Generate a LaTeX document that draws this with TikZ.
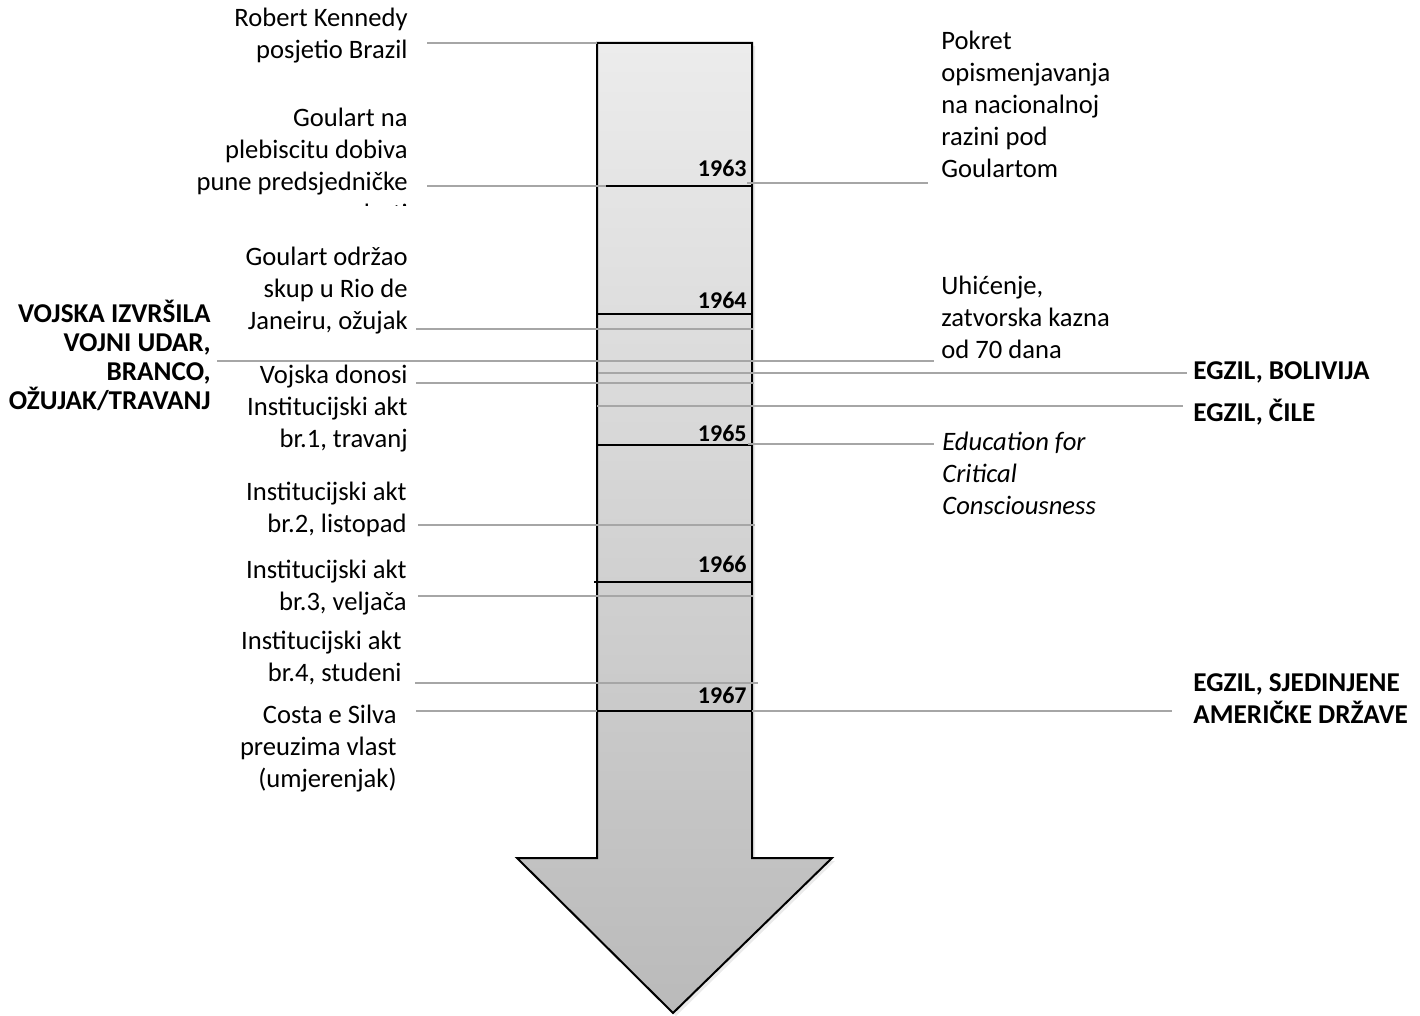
\documentclass[tikz,border=0pt]{standalone}
\usepackage{fontspec}
\setmainfont{Carlito}
\definecolor{linegray}{RGB}{166,166,166}
\definecolor{arrowtop}{RGB}{236,236,236}
\definecolor{arrowbot}{RGB}{186,186,186}
\tikzset{
  conn/.style={draw=linegray, line width=1pt},
  yearline/.style={draw=black, line width=1pt},
  lbl/.style={inner sep=0pt, font=\fontsize{13.3}{16}\selectfont},
  lbll/.style={lbl, anchor=east, align=right},
  lblr/.style={lbl, anchor=west, align=left},
  boldl/.style={inner sep=0pt, anchor=east, align=right, font=\fontsize{13.6}{14.5}\selectfont\bfseries},
  boldr/.style={inner sep=0pt, anchor=west, align=left, font=\fontsize{13.6}{16}\selectfont\bfseries},
  yr/.style={inner sep=0pt, anchor=east, font=\fontsize{12}{14}\selectfont\bfseries},
}
\begin{document}
\begin{tikzpicture}[x=0.5pt, y=-0.5pt, line join=miter]
\useasboundingbox (0,0) rectangle (1420,1016);

% shadow
\begin{scope}[shift={(3,3)}]
\fill[black, opacity=0.08] (597,43) -- (752,43) -- (752,858) -- (832,858) -- (673,1013) -- (517,858) -- (597,858) -- cycle;
\end{scope}
% arrow
\path[top color=arrowtop, bottom color=arrowbot, draw=black, line width=1pt]
  (597,43) -- (752,43) -- (752,858) -- (832,858) -- (673,1013) -- (517,858) -- (597,858) -- cycle;

% year lines
\draw[yearline] (597,186) -- (752,186);
\draw[yearline] (597,314) -- (752,314);
\draw[yearline] (597,445) -- (752,445);
\draw[yearline] (594,582) -- (752,582);
\draw[yearline] (597,711) -- (752,711);

% year labels
\node[yr] (y63) at (747,168) {1963};
\node[yr] (y64) at (747,300) {1964};
\node[yr] (y65) at (747,433) {1965};
\node[yr] (y66) at (747,564) {1966};
\node[yr] (y67) at (747,695) {1967};

% left labels
\node[lbll] (rk) at (408,36) {Robert Kennedy\\posjetio Brazil};
\begin{scope}
\clip (150,80) rectangle (420,206);
\node[lbll] (gn) at (408,165) {Goulart na\\plebiscitu dobiva\\pune predsjedničke\\ovlasti};
\end{scope}
\node[lbll] (go) at (408,291) {Goulart održao\\skup u Rio de\\Janeiru, ožujak};
\node[boldl] (vu) at (211,355) {VOJSKA IZVRŠILA\\VOJNI UDAR,\\BRANCO,\\OŽUJAK/TRAVANJ};
\node[lbll] (vd) at (408,409) {Vojska donosi\\Institucijski akt\\br.1, travanj};
\node[lbll] (ia2) at (407,509.5) {Institucijski akt\\br.2, listopad};
\node[lbll] (ia3) at (407,587.5) {Institucijski akt\\br.3, veljača};
\node[lbll] (ia4) at (402,658) {Institucijski akt\\br.4, studeni};
\node[lbll] (cs) at (397,749) {Costa e Silva\\preuzima vlast\\(umjerenjak)};

% right labels
\node[lblr] (pk) at (941,104) {Pokret\\opismenjavanja\\na nacionalnoj\\razini pod\\Goulartom};
\node[lblr] (uh) at (941,317) {Uhićenje,\\zatvorska kazna\\od 70 dana};
\node[lblr, font=\fontsize{13.3}{16}\selectfont\itshape] (ed) at (942,473) {Education for\\Critical\\Consciousness};
\node[boldr] (bo) at (1193,372) {EGZIL, BOLIVIJA};
\node[boldr] (ci) at (1193,412) {EGZIL, ČILE};
\node[boldr] (sad) at (1193,699) {EGZIL, SJEDINJENE\\AMERIČKE DRŽAVE};

% connector end points
\coordinate (rkA) at (427,43);   \coordinate (rkB) at (597,43);
\coordinate (gnA) at (427,186);  \coordinate (gnB) at (606,186);
\coordinate (pkA) at (747,183);  \coordinate (pkB) at (928,183);
\coordinate (goA) at (416,329);  \coordinate (goB) at (753,329);
\coordinate (vuA) at (217,361);  \coordinate (uhB) at (934,361);
\coordinate (boA) at (598,373);  \coordinate (boB) at (1187,373);
\coordinate (vdA) at (416,383);  \coordinate (vdB) at (754,383);
\coordinate (ciA) at (597,406);  \coordinate (ciB) at (1183,406);
\coordinate (edA) at (748,444);  \coordinate (edB) at (934,444);
\coordinate (i2A) at (418,525);  \coordinate (i2B) at (755,525);
\coordinate (i3A) at (418,596);  \coordinate (i3B) at (753,596);
\coordinate (i4A) at (415,683);  \coordinate (i4B) at (758,683);
\coordinate (csA) at (416,711);  \coordinate (csB) at (597,711);
\coordinate (sdA) at (752,711);  \coordinate (sdB) at (1172,711);

% connectors
\draw[conn] (rkA) -- (rkB);
\draw[conn] (gnA) -- (gnB);
\draw[conn] (pkA) -- (pkB);
\draw[conn] (goA) -- (goB);
\draw[conn] (vuA) -- (uhB);
\draw[conn] (boA) -- (boB);
\draw[conn] (vdA) -- (vdB);
\draw[conn] (ciA) -- (ciB);
\draw[conn] (edA) -- (edB);
\draw[conn] (i2A) -- (i2B);
\draw[conn] (i3A) -- (i3B);
\draw[conn] (i4A) -- (i4B);
\draw[conn] (csA) -- (csB);
\draw[conn] (sdA) -- (sdB);
\end{tikzpicture}
\end{document}
